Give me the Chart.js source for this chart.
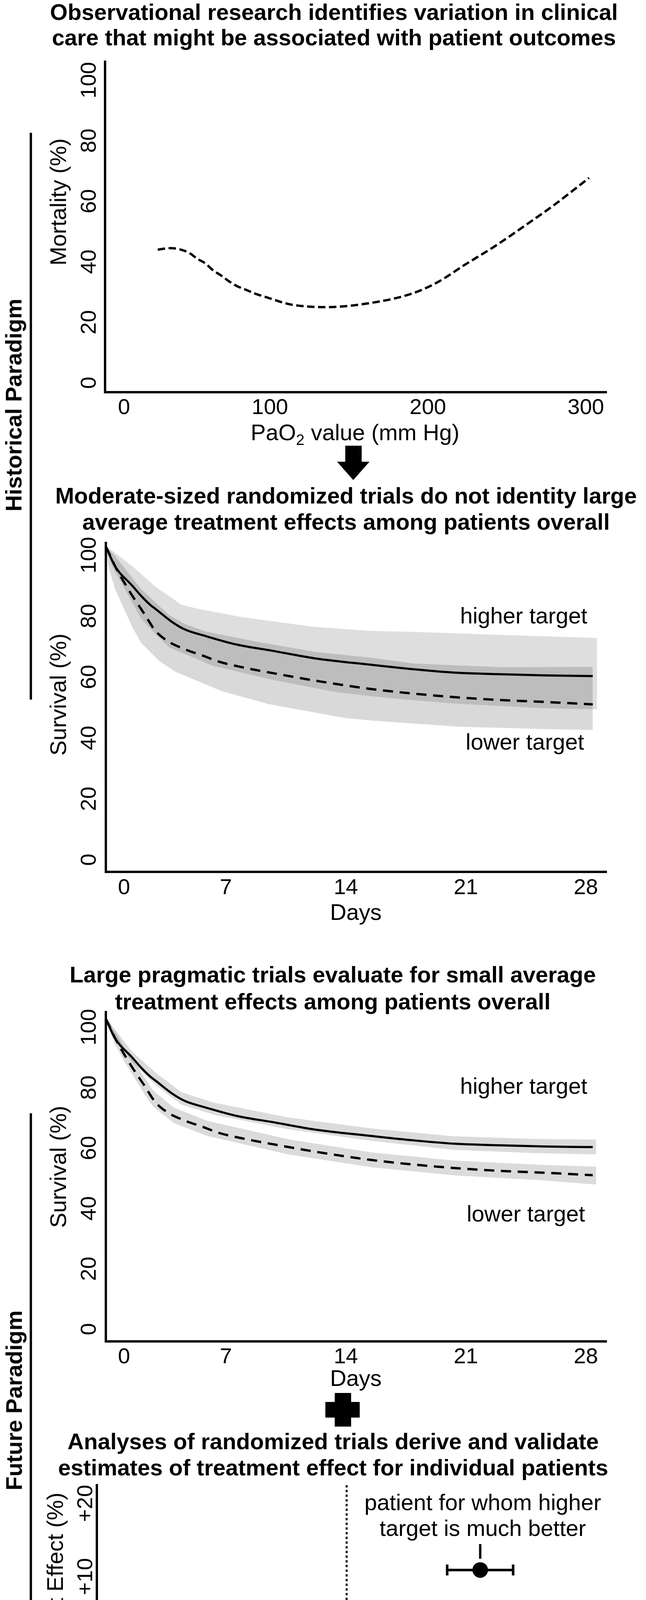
<!DOCTYPE html>
<html lang="en">
<head>
<meta charset="utf-8">
<title>Oxygen targets: historical and future paradigm</title>
<script src="https://cdn.jsdelivr.net/npm/chart.js@4.4.1/dist/chart.umd.min.js"></script>
<style>
  html, body { margin: 0; padding: 0; background: #ffffff; }
  #page { position: relative; width: 1654px; height: 4800px; overflow: hidden; background: #ffffff;
          font-family: "Liberation Sans", Arial, Helvetica, sans-serif; color: #000000; }
  #page canvas { position: absolute; left: 0; }
  #page svg { position: absolute; left: 0; top: 0; }
  .txt { position: absolute; white-space: nowrap; font-size: 58px; line-height: 58px; }
  .txt.bold { font-weight: bold; }
  .txt sub { font-size: 0.68em; line-height: 0; vertical-align: -0.3em; }
</style>
</head>
<body>
<div id="page">
  <svg width="1654" height="4800" viewBox="0 0 1654 4800">
    <!-- side brackets -->
    <rect x="76" y="340" width="6" height="1451" fill="#000"/>
    <rect x="76" y="2850" width="6" height="1448" fill="#000"/>
    <!-- arrow between panel 1 and 2 -->
    <rect x="884" y="1141" width="42" height="42" fill="#000"/>
    <polygon points="863,1182 946,1182 904.5,1229" fill="#000"/>
    <!-- plus between panel 3 and 4 -->
    <rect x="857" y="3566" width="42" height="86" fill="#000"/>
    <rect x="833" y="3589" width="88" height="40" fill="#000"/>
  </svg>
  <canvas id="chart_pao2" width="1654" height="972" style="top:108px"></canvas>
  <canvas id="chart_moderate" width="1654" height="1034" style="top:1340px"></canvas>
  <canvas id="chart_pragmatic" width="1654" height="1026" style="top:2541px"></canvas>
  <canvas id="chart_hte" width="1654" height="1042" style="top:3752px"></canvas>
</div>
<script>
// ---------- values ----------

// panel 1: observational PaO2 (mm Hg) vs mortality (%)
const PAO2 = [29, 37, 43, 49, 54, 59, 64, 69, 74, 79, 85, 91, 97, 103, 109, 114, 135, 164, 190, 206, 224, 242, 266, 279, 302];
const MORTALITY = [44.0, 44.5, 44.1, 42.9, 41.0, 39.5, 37.2, 35.5, 33.6, 32.0, 30.7, 29.4, 28.4, 27.4, 26.4, 25.8, 25.0, 26.4, 29.5, 33.2, 39.2, 45.0, 53.6, 58.4, 67.7];
const PAO2_TICKS = [0, 100, 200, 300];
const MORT_TICKS = [0, 20, 40, 60, 80, 100];

// panels 2 and 3: survival (%) by day, higher vs lower oxygen target
const DAYS_HIGHER = [0, 0.54, 1.55, 2.06, 2.6, 2.9, 3.9, 4.6, 5.83, 7.65, 9.7, 12.2, 15.47, 18.0, 20.4, 23.6, 25.6, 28.4];
const SURV_HIGHER = [102.8, 96.3, 89.9, 86.6, 83.6, 82.3, 77.9, 75.6, 73.4, 70.6, 68.6, 66.1, 64.0, 62.5, 61.4, 60.8, 60.5, 60.3];
const DAYS_LOWER = [0, 0.6, 1.2, 1.55, 2.27, 2.87, 3.6, 4.6, 5.7, 6.6, 8.2, 9.7, 12.2, 15.4, 18.0, 20.5, 23.1, 25.6, 28.4];
const SURV_LOWER = [102.8, 95.7, 89.8, 86.6, 80.5, 75.3, 71.8, 69.1, 66.9, 65.0, 62.9, 61.3, 58.8, 56.1, 54.5, 53.3, 52.4, 51.8, 51.0];
const DAY_TICKS = [0, 7, 14, 21, 28];
const SURV_TICKS = [0, 20, 40, 60, 80, 100];

// panel 2: wide confidence bands [day, survival]
const WIDE_HIGH_TOP = [[0, 103], [1.55, 96.3], [2.87, 89.7], [4.4, 83.7], [5.42, 82.3], [7.86, 79.7], [12.03, 76.5], [15.47, 75.1], [17.86, 74.8], [23, 73.8], [28.65, 72.8]];
const WIDE_HIGH_BOTTOM = [[0, 103], [0.3, 97], [2.06, 79.1], [2.87, 74.2], [3.69, 69.7], [6.23, 63.7], [9.68, 59.1], [13.35, 55.1], [15.47, 53.7], [18.0, 52.3], [20.55, 51.2], [25.6, 49.7], [28.65, 49.4]];
const WIDE_LOW_TOP = [[0, 103], [0.5, 100], [2.06, 88.8], [3.69, 80.3], [4.6, 77.4], [5.83, 74.9], [8.68, 71.7], [12.23, 68.2], [15.47, 66.3], [18.0, 64.4], [23.1, 63.2], [28.4, 63.3]];
const WIDE_LOW_BOTTOM = [[0, 103], [0.14, 96.3], [0.54, 88.8], [1.55, 76.3], [2.06, 71.2], [3.08, 65.4], [3.99, 61.9], [6.74, 55.4], [9.49, 51.1], [13.96, 46.5], [15.47, 45.7], [20.55, 43.7], [25.6, 42.9], [28.4, 42.6]];

// panel 3: narrow confidence bands [day, survival]
const NARROW_HIGH_TOP = [[0, 103.1], [1.55, 91.8], [2.96, 84.7], [4.4, 78.5], [6.32, 75.0], [10.65, 70.1], [15.46, 66.5], [20.26, 63.9], [25.07, 63.0], [28.6, 62.8]];
const NARROW_HIGH_BOTTOM = [[0, 101.5], [1.55, 88.2], [2.96, 80.6], [4.4, 74.4], [6.32, 71.0], [10.65, 66.2], [15.46, 62.4], [20.26, 59.4], [25.07, 58.3], [28.6, 57.9]];
const NARROW_LOW_TOP = [[0, 103.3], [0.54, 98.5], [1.14, 92.7], [2.27, 83.3], [2.76, 79.0], [3.96, 73.4], [5.9, 69.0], [10.73, 62.8], [15.56, 58.5], [20.39, 55.8], [25.2, 54.5], [28.6, 53.8]];
const NARROW_LOW_BOTTOM = [[0, 101.8], [0.54, 94.3], [1.14, 88.1], [2.27, 77.7], [2.76, 73.7], [3.96, 68.3], [5.9, 64.0], [10.73, 57.8], [15.56, 53.6], [20.39, 50.9], [25.2, 49.4], [28.6, 47.9]];

// panel 4: predicted vs observed treatment effect (%)
const PRED_EFFECT = [11.5, 2.58, -5.17];
const OBS_EFFECT = [10.9, 3.7, -5.03];
const PRED_LOW = [8.66, 1.4, -8.05];
const PRED_HIGH = [14.33, 3.8, -2.32];
const LEADERS = [[11.5, 14.44, 11.5, 12.45], [2.62, 1.0, 2.62, -2.0], [-5.65, -6.95, -6.1, -9.8]];
const EFFECT_TICKS = [-20, -10, 0, 10, 20];

// ---------- helpers ----------
const FONT = "'Liberation Sans', Arial, Helvetica, sans-serif";
Chart.defaults.font.family = FONT;
Chart.defaults.color = '#000';

const pts = (xs, ys) => xs.map((x, i) => ({ x: x, y: ys[i] }));
const pairs = (list) => list.map((p) => ({ x: p[0], y: p[1] }));
const zeroShifted = (spaces) => (v) => (v === 0 ? ' '.repeat(spaces) + '0' : String(v));
const signed = (v) => (v > 0 ? '+' + v : String(v));
const plain = (v) => String(v);

// text written inside the plot at data coordinates (baseline, centred)
const notesPlugin = {
  id: 'notes',
  afterDatasetsDraw(chart, args, opts) {
    const ctx = chart.ctx;
    const sx = chart.scales.x;
    const sy = chart.scales.y;
    ctx.save();
    ctx.font = '58px ' + FONT;
    ctx.fillStyle = '#000';
    ctx.textAlign = 'center';
    ctx.textBaseline = 'alphabetic';
    (opts.items || []).forEach((n) => {
      ctx.fillText(n.text, sx.getPixelForValue(n.x), sy.getPixelForValue(n.y));
    });
    ctx.restore();
  }
};

function axisOptions(o) {
  const zeroGrid = (c) => (o.zeroLines && c.tick && c.tick.value === 0 ? '#000' : 'transparent');
  const grid = { display: !!o.zeroLines, drawTicks: false, color: zeroGrid, lineWidth: 5 };
  const border = { display: true, color: '#000', width: 6, dash: [6, 6] };
  return {
    responsive: false,
    devicePixelRatio: 1,
    animation: false,
    events: [],
    layout: { padding: { top: 50, right: o.padRight, bottom: 0, left: 0 } },
    plugins: {
      legend: { display: false },
      tooltip: { enabled: false },
      notes: { items: o.notes || [] }
    },
    scales: {
      x: {
        type: 'linear',
        min: o.xMin,
        max: o.xMax,
        afterBuildTicks: (s) => { s.ticks = o.xTicks.map((v) => ({ value: v })); },
        afterFit: (s) => { s.height = o.xHeight; },
        grid: grid,
        border: border,
        ticks: { autoSkip: false, minRotation: 0, maxRotation: 0, padding: o.xPad,
                 font: { size: 56 }, color: '#000', callback: o.xLabel || plain },
        title: o.xTitle
          ? { display: true, text: o.xTitle, color: '#000', font: { size: 58 }, padding: { top: 0, bottom: 0 } }
          : { display: false }
      },
      y: {
        type: 'linear',
        min: o.yMin,
        max: o.yMax,
        afterBuildTicks: (s) => { s.ticks = o.yTicks.map((v) => ({ value: v })); },
        afterFit: (s) => { s.width = o.yWidth; },
        grid: grid,
        border: border,
        ticks: { autoSkip: false, minRotation: 90, maxRotation: 90, crossAlign: 'center', padding: o.yPad,
                 font: { size: 56 }, color: '#000', callback: o.yLabel || plain }
      }
    }
  };
}

function band(edge, fillTo, shade) {
  return { data: pairs(edge), borderWidth: 0, borderColor: 'transparent', pointRadius: 0, tension: 0,
           fill: fillTo, backgroundColor: shade, order: 2 };
}

function survivalLines() {
  return [
    { data: pts(DAYS_HIGHER, SURV_HIGHER), borderColor: '#000', borderWidth: 5.5, pointRadius: 0,
      cubicInterpolationMode: 'monotone', fill: false, order: 1 },
    { data: pts(DAYS_LOWER, SURV_LOWER), borderColor: '#000', borderWidth: 6, borderDash: [26, 17], pointRadius: 0,
      cubicInterpolationMode: 'monotone', fill: false, order: 1 }
  ];
}

// ---------- panel 1 ----------
new Chart(document.getElementById('chart_pao2'), {
  type: 'line',
  data: {
    datasets: [{
      data: pts(PAO2, MORTALITY),
      borderColor: '#000',
      borderWidth: 6,
      borderDash: [19, 9],
      pointRadius: 0,
      cubicInterpolationMode: 'monotone',
      fill: false
    }]
  },
  options: axisOptions({
    xMin: -4.33, xMax: 312.6, xTicks: PAO2_TICKS, xPad: 7, xHeight: 76, xLabel: zeroShifted(4),
    yMin: -3.1, yMax: 106.1, yTicks: MORT_TICKS, yPad: -7.7, yWidth: 269, padRight: 103
  }),
  plugins: [notesPlugin]
});

// ---------- panel 2 ----------
new Chart(document.getElementById('chart_moderate'), {
  type: 'line',
  data: {
    datasets: [
      band(WIDE_HIGH_TOP, '+1', 'rgba(0,0,0,0.13)'),
      band(WIDE_HIGH_BOTTOM, false, 'transparent'),
      band(WIDE_LOW_TOP, '+1', 'rgba(0,0,0,0.15)'),
      band(WIDE_LOW_BOTTOM, false, 'transparent')
    ].concat(survivalLines())
  },
  options: axisOptions({
    xMin: 0, xMax: 29.16, xTicks: DAY_TICKS, xPad: 8, xHeight: 142, xTitle: 'Days', xLabel: zeroShifted(6),
    yMin: -3.97, yMax: 103.97, yTicks: SURV_TICKS, yPad: -5.7, yWidth: 271, padRight: 103,
    notes: [
      { text: 'higher target', x: 24.37, y: 77.5 },
      { text: 'lower target', x: 24.44, y: 36.2 }
    ]
  }),
  plugins: [notesPlugin]
});

// ---------- panel 3 ----------
new Chart(document.getElementById('chart_pragmatic'), {
  type: 'line',
  data: {
    datasets: [
      band(NARROW_HIGH_TOP, '+1', 'rgba(0,0,0,0.14)'),
      band(NARROW_HIGH_BOTTOM, false, 'transparent'),
      band(NARROW_LOW_TOP, '+1', 'rgba(0,0,0,0.14)'),
      band(NARROW_LOW_BOTTOM, false, 'transparent')
    ].concat(survivalLines())
  },
  options: axisOptions({
    xMin: 0, xMax: 29.16, xTicks: DAY_TICKS, xPad: 7, xHeight: 133, xTitle: 'Days', xLabel: zeroShifted(6),
    yMin: -4.04, yMax: 105.0, yTicks: SURV_TICKS, yPad: -5.7, yWidth: 271, padRight: 103,
    notes: [
      { text: 'higher target', x: 24.37, y: 78.0 },
      { text: 'lower target', x: 24.5, y: 35.7 }
    ]
  }),
  plugins: [notesPlugin]
});

// ---------- panel 4 ----------
const errorBars = PRED_EFFECT.map((_, i) => ({
  data: [{ x: PRED_LOW[i], y: OBS_EFFECT[i] }, { x: PRED_HIGH[i], y: OBS_EFFECT[i] }],
  borderColor: '#000',
  borderWidth: 6.5,
  pointStyle: 'line',
  pointRotation: 90,
  pointRadius: i === 1 ? 12 : 14,
  pointBorderWidth: 6.5,
  pointBorderColor: '#000',
  order: 2
}));
const leaderLines = LEADERS.map((l) => ({
  data: [{ x: l[0], y: l[1] }, { x: l[2], y: l[3] }],
  borderColor: '#000',
  borderWidth: 6,
  pointRadius: 0,
  order: 2
}));
new Chart(document.getElementById('chart_hte'), {
  type: 'line',
  data: {
    datasets: errorBars.concat(leaderLines, [{
      data: pts(PRED_EFFECT, OBS_EFFECT),
      showLine: false,
      pointStyle: ['circle', 'rectRot', 'circle'],
      pointRadius: [20, 24, 20],
      pointBackgroundColor: '#000',
      pointBorderWidth: 0,
      order: 1
    }])
  },
  options: axisOptions({
    xMin: -21.46, xMax: 21.59, xTicks: EFFECT_TICKS, xPad: 20, xHeight: 145,
    xTitle: 'Predicted Individualized Treatment Effect (%)', xLabel: signed,
    yMin: -22.71, yMax: 22.49, yTicks: EFFECT_TICKS, yPad: -20.5, yWidth: 248, yLabel: signed,
    padRight: 124, zeroLines: true,
    notes: [
      { text: 'patient for whom higher', x: 11.72, y: 19.07 },
      { text: 'target is much better', x: 11.72, y: 15.55 },
      { text: 'average treatment effect', x: 11.35, y: -4.41 },
      { text: 'patient for whom', x: -10.41, y: -12.89 },
      { text: 'lower target is better', x: -10.38, y: -16.41 }
    ]
  }),
  plugins: [notesPlugin]
});

// ---------- headings, axis titles and side labels ----------
const page = document.getElementById('page');

function addText(html, cx, baseline, bold) {
  const d = document.createElement('div');
  d.className = 'txt' + (bold ? ' bold' : '');
  d.innerHTML = html;
  d.style.left = cx + 'px';
  d.style.top = (baseline - 49.1) + 'px';
  d.style.transform = 'translateX(-50%)';
  page.appendChild(d);
}

function addVText(text, baselineX, cy, bold) {
  const d = document.createElement('div');
  d.className = 'txt' + (bold ? ' bold' : '');
  d.textContent = text;
  d.style.left = (baselineX - 20.1) + 'px';
  d.style.top = cy + 'px';
  d.style.transform = 'translate(-50%, -50%) rotate(-90deg)';
  page.appendChild(d);
}

addText('Observational research identifies variation in clinical', 855, 50.6, true);
addText('care that might be associated with patient outcomes', 855, 116, true);
addText('Moderate-sized randomized trials do not identity large', 886, 1289, true);
addText('average treatment effects among patients overall', 886, 1356, true);
addText('Large pragmatic trials evaluate for small average', 852, 2515, true);
addText('treatment effects among patients overall', 852, 2584, true);
addText('Analyses of randomized trials derive and validate', 853, 3710, true);
addText('estimates of treatment effect for individual patients', 853, 3777, true);

addText('PaO<sub>2</sub> value (mm Hg)', 909, 1127, false);

addVText('Mortality (%)', 169.5, 517, false);
addVText('Survival (%)', 169.5, 1778, false);
addVText('Survival (%)', 169.5, 2987, false);
addVText('Observed Treatment Effect (%)', 161, 4220, false);

addVText('Historical Paradigm', 55, 1036.5, true);
addVText('Future Paradigm', 56, 3585, true);
</script>
</body>
</html>
